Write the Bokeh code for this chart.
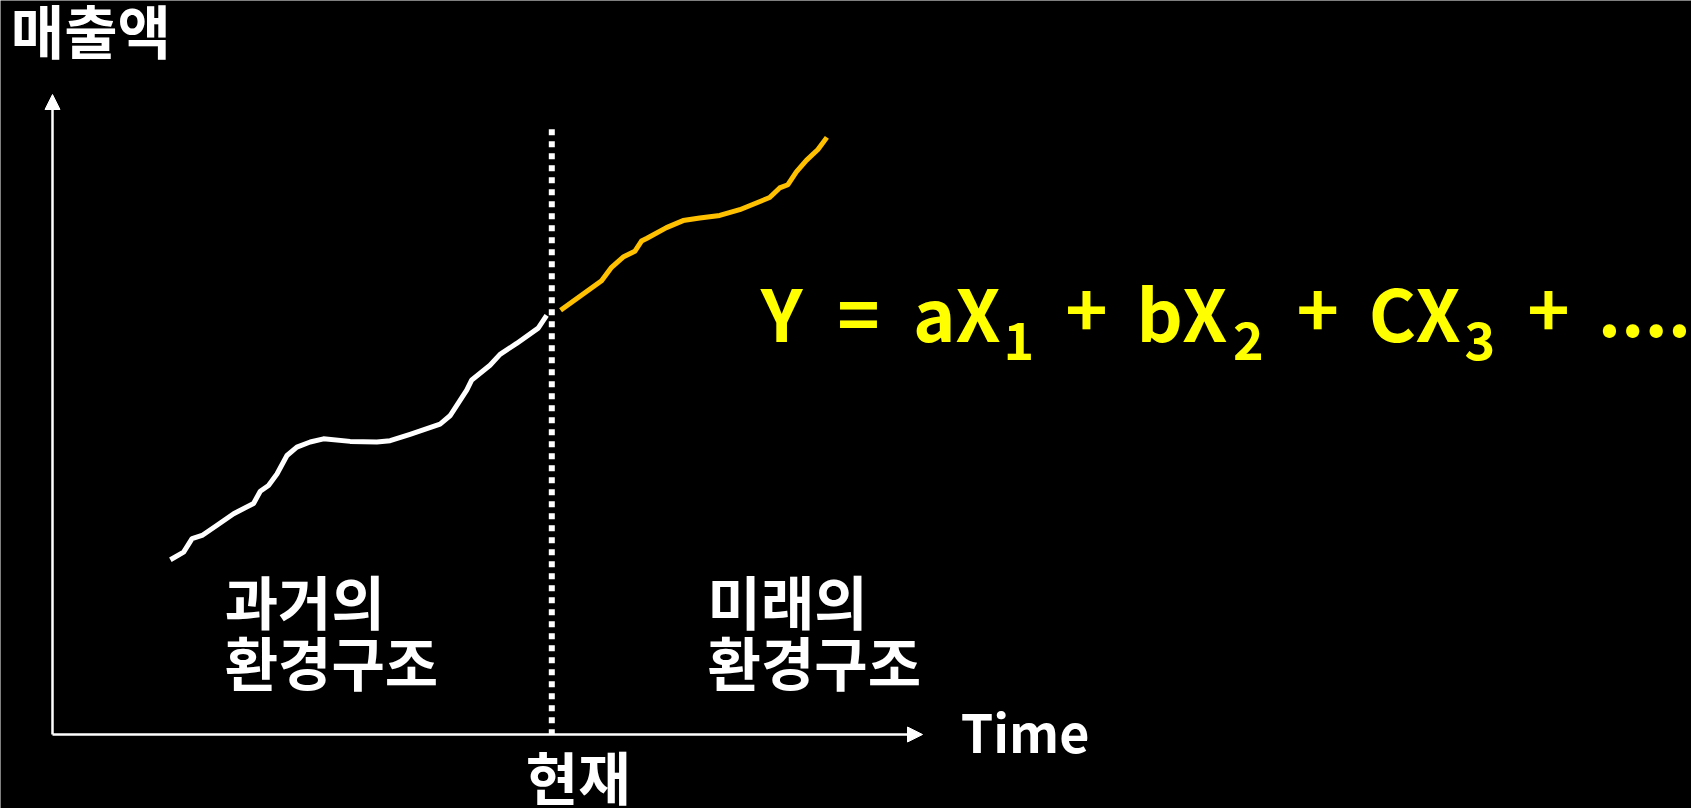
from bokeh.plotting import figure
from bokeh.models import Range1d, Arrow, NormalHead
from bokeh.core.properties import value
from bokeh.embed import file_html
from bokeh.resources import INLINE

# ---- data (time units 0..100 on the x arrow, sales 0..100 on the y arrow) ----
past_time = [13.55, 15.07, 16.04, 17.19, 18.91, 20.82, 23.11, 23.88, 24.83, 25.80,
             26.95, 28.09, 29.62, 31.15, 34.21, 37.28, 38.81, 41.10, 44.55, 45.69,
             47.61, 48.19, 50.29, 51.44, 53.35, 55.83, 56.80]
past_sales = [27.3, 28.5, 30.6, 31.1, 32.7, 34.5, 36.1, 38.0, 38.9, 40.7,
              43.6, 44.9, 45.7, 46.2, 45.8, 45.7, 45.9, 46.9, 48.5, 49.8,
              53.8, 55.4, 57.7, 59.4, 61.1, 63.5, 65.5]
future_time = [58.40, 63.11, 64.26, 65.59, 66.93, 67.70, 68.28, 70.57, 72.48, 74.40,
               76.69, 78.99, 82.43, 83.58, 84.53, 85.50, 86.65, 87.98, 89.01]
future_sales = [66.3, 70.9, 73.0, 74.6, 75.5, 77.1, 77.5, 79.2, 80.3, 80.7,
                81.1, 82.0, 83.9, 85.4, 85.9, 87.9, 89.7, 91.4, 93.3]
present_time = 57.39
present_top = 94.58
axis_max = 100

y_label = "매출액"
x_label = "Time"
present_label = "현재"
past_label = ["과거의", "환경구조"]
future_label = ["미래의", "환경구조"]

formula_main = ["Y", "=", "aX", "+", "bX", "+", "CX", "+", "...."]
formula_sub = ["1", "2", "3"]

# ---- layout (positions of the formula pieces, in time units) ----
formula_main_x = [81.4, 90.2, 98.9, 116.4, 124.6, 143.0, 151.3, 169.5, 177.6]
formula_sub_x = [109.3, 135.7, 162.3]

W, H = 1691, 808
p = figure(width=W, height=H, output_backend="svg", toolbar_location=None,
           x_range=Range1d(-5.977, 188.39), y_range=Range1d(-11.5625, 114.6875),
           min_border=0, background_fill_color="black", border_fill_color="black")
p.axis.visible = False
p.grid.visible = False
p.outline_line_color = None

KR = value("Noto Sans CJK KR")

# axes with arrow heads
for xe, ye in [(0, axis_max), (axis_max, 0)]:
    p.add_layout(Arrow(end=NormalHead(size=15, fill_color="white", line_color="white", line_width=1),
                       x_start=0, y_start=0, x_end=xe, y_end=ye,
                       line_color="white", line_width=2.5))

# present (dotted) line
p.line([present_time, present_time], [present_top, 0], line_color="white",
       line_width=6, line_dash="6 6", line_cap="butt")

# past and future sales
p.line(past_time, past_sales, line_color="white", line_width=5, line_join="round")
p.line(future_time, future_sales, line_color="#FFC000", line_width=5, line_join="round")

# Korean labels
kr = dict(text_font=KR, text_font_style="bold", text_color="white",
          text_align="left", text_baseline="middle")
p.text(x=[-4.79], y=[110.23], text=[y_label], text_font_size="58px", **kr)
p.text(x=[19.8, 19.8], y=[20.97, 11.41], text=past_label, text_font_size="58px", **kr)
p.text(x=[75.3, 75.3], y=[20.97, 11.41], text=future_label, text_font_size="58px", **kr)
p.text(x=[54.4], y=[-6.33], text=[present_label], text_font_size="57px", **kr)
p.text(x=[104.4], y=[0.55], text=[x_label], text_font_size="52px", **kr)

# formula
fm = dict(text_font=KR, text_font_style="bold", text_color="#FFFF00",
          text_align="left", text_baseline="middle")
p.text(x=formula_main_x, y=[66.3] * len(formula_main), text=formula_main,
       text_font_size="72px", **fm)
p.text(x=formula_sub_x, y=[61.58] * len(formula_sub), text=formula_sub,
       text_font_size="52px", **fm)

open("out.html", "w").write(file_html(p, INLINE))
